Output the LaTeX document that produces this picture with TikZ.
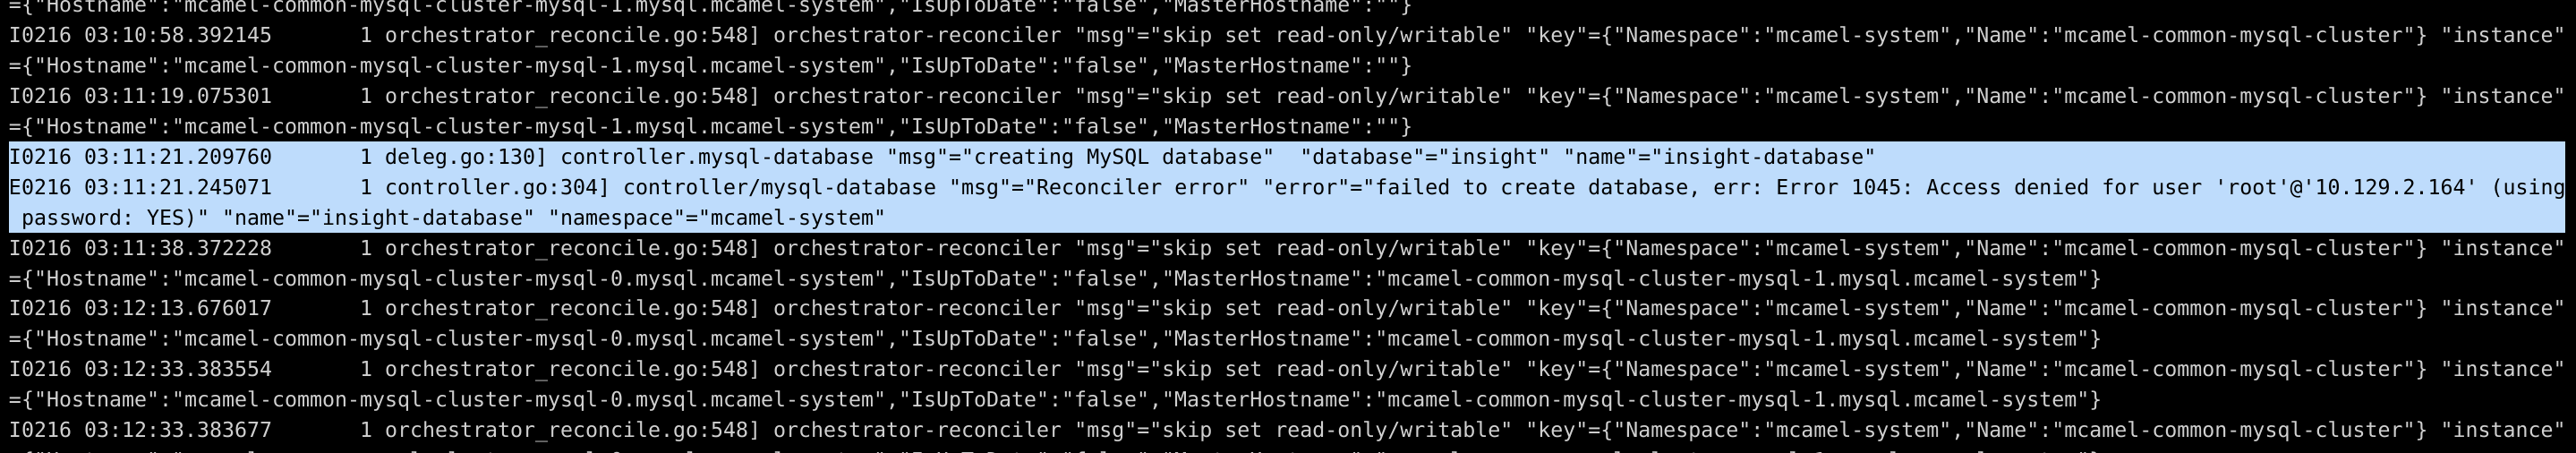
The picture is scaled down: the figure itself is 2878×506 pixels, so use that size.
\documentclass[tikz,border=0pt]{standalone}
\usepackage{fontspec}
\setmonofont{DejaVu Sans Mono}
\definecolor{TermBg}{RGB}{0,0,0}
\definecolor{TermText}{RGB}{208,208,208}
\definecolor{SelBlue}{RGB}{190,220,252}
\newcommand{\termfont}{\ttfamily\fontsize{11.63pt}{14pt}\selectfont\frenchspacing}
\usepackage{tikz}

\begin{document}
\begin{tikzpicture}[x=0.5pt, y=-0.5pt]
				\tikzstyle{every node}=[anchor=base west, inner sep=0pt, outer sep=0pt, font=\termfont, text=TermText];
				\useasboundingbox (0,0) rectangle (2878,506);
				\fill [TermBg] (0,0) rectangle (2878,506);
				\clip (0,0) rectangle (2878,506);
				% selected block
				\fill [SelBlue] (10,158) rectangle (2866,260);
				\node (l01) at (10, 14.0) {=\{"Hostname":"mcamel-common-mysql-cluster-mysql-1.mysql.mcamel-system","IsUpToDate":"false","MasterHostname":""\}};
				\node (l02) at (10, 47.9) {I0216 03:10:58.392145~~~~~~~1 orchestrator\_reconcile.go:548] orchestrator-reconciler "msg"="skip set read-only/writable" "key"=\{"Namespace":"mcamel-system","Name":"mcamel-common-mysql-cluster"\} "instance"};
				\node (l03) at (10, 81.8) {=\{"Hostname":"mcamel-common-mysql-cluster-mysql-1.mysql.mcamel-system","IsUpToDate":"false","MasterHostname":""\}};
				\node (l04) at (10, 115.7) {I0216 03:11:19.075301~~~~~~~1 orchestrator\_reconcile.go:548] orchestrator-reconciler "msg"="skip set read-only/writable" "key"=\{"Namespace":"mcamel-system","Name":"mcamel-common-mysql-cluster"\} "instance"};
				\node (l05) at (10, 149.6) {=\{"Hostname":"mcamel-common-mysql-cluster-mysql-1.mysql.mcamel-system","IsUpToDate":"false","MasterHostname":""\}};
				\node [text=black] (l06) at (10, 183.5) {I0216 03:11:21.209760~~~~~~~1 deleg.go:130] controller.mysql-database "msg"="creating MySQL database"~~"database"="insight" "name"="insight-database"};
				\node [text=black] (l07) at (10, 217.4) {E0216 03:11:21.245071~~~~~~~1 controller.go:304] controller/mysql-database "msg"="Reconciler error" "error"="failed to create database, err: Error 1045: Access denied for user 'root'@'10.129.2.164' (using};
				\node [text=black] (l08) at (10, 251.3) {~password: YES)" "name"="insight-database" "namespace"="mcamel-system"};
				\node (l09) at (10, 285.2) {I0216 03:11:38.372228~~~~~~~1 orchestrator\_reconcile.go:548] orchestrator-reconciler "msg"="skip set read-only/writable" "key"=\{"Namespace":"mcamel-system","Name":"mcamel-common-mysql-cluster"\} "instance"};
				\node (l10) at (10, 319.1) {=\{"Hostname":"mcamel-common-mysql-cluster-mysql-0.mysql.mcamel-system","IsUpToDate":"false","MasterHostname":"mcamel-common-mysql-cluster-mysql-1.mysql.mcamel-system"\}};
				\node (l11) at (10, 353.0) {I0216 03:12:13.676017~~~~~~~1 orchestrator\_reconcile.go:548] orchestrator-reconciler "msg"="skip set read-only/writable" "key"=\{"Namespace":"mcamel-system","Name":"mcamel-common-mysql-cluster"\} "instance"};
				\node (l12) at (10, 386.9) {=\{"Hostname":"mcamel-common-mysql-cluster-mysql-0.mysql.mcamel-system","IsUpToDate":"false","MasterHostname":"mcamel-common-mysql-cluster-mysql-1.mysql.mcamel-system"\}};
				\node (l13) at (10, 420.8) {I0216 03:12:33.383554~~~~~~~1 orchestrator\_reconcile.go:548] orchestrator-reconciler "msg"="skip set read-only/writable" "key"=\{"Namespace":"mcamel-system","Name":"mcamel-common-mysql-cluster"\} "instance"};
				\node (l14) at (10, 454.7) {=\{"Hostname":"mcamel-common-mysql-cluster-mysql-0.mysql.mcamel-system","IsUpToDate":"false","MasterHostname":"mcamel-common-mysql-cluster-mysql-1.mysql.mcamel-system"\}};
				\node (l15) at (10, 488.6) {I0216 03:12:33.383677~~~~~~~1 orchestrator\_reconcile.go:548] orchestrator-reconciler "msg"="skip set read-only/writable" "key"=\{"Namespace":"mcamel-system","Name":"mcamel-common-mysql-cluster"\} "instance"};
				\node (l16) at (10, 522.5) {=\{"Hostname":"mcamel-common-mysql-cluster-mysql-0.mysql.mcamel-system","IsUpToDate":"false","MasterHostname":"mcamel-common-mysql-cluster-mysql-1.mysql.mcamel-system"\}};
			\end{tikzpicture}
\end{document}
